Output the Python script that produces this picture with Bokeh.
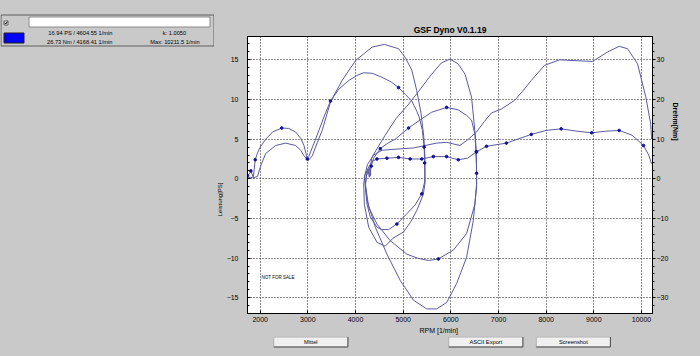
from bokeh.plotting import figure
from bokeh.models import Range1d, LinearAxis, Label, Title, SingleIntervalTicker, FixedTicker
from bokeh.layouts import row, column
from bokeh.core.properties import value
from bokeh.embed import file_html
from bokeh.resources import INLINE

# ---------------- data ----------------
rpm_ticks = [2000, 3000, 4000, 5000, 6000, 7000, 8000, 9000, 10000]

# Power [PS] (left axis) - one continuous trace split into its runs
pw1_rpm = [1735, 1800, 1850, 1944, 2014, 2117, 2326, 2535, 2744, 2850, 2919, 3009, 3093, 3200, 3301,
           3475, 3719, 4000, 4345, 4605, 4903, 5042, 5181, 5285, 5376, 5432, 5455, 5460, 5460]
pw1_ps = [0.1, 0.2, 0.1, 0.3, 1.7, 3.2, 4.2, 4.5, 4.2, 3.6, 2.9, 2.3, 2.9, 4.6, 6.1,
          9.7, 12.4, 14.9, 16.6, 16.94, 16.4, 15.3, 13.7, 11.1, 8.2, 5.3, 3.0, 0.0, -0.5]
pw2_rpm = [5420, 5285, 5150, 5007, 4784, 4623, 4450, 4276, 4185, 4172, 4200, 4260, 4290, 4310]
pw2_ps = [-2.0, -4.0, -5.5, -6.7, -7.5, -8.5, -8.0, -6.1, -3.2, -0.6, 0.5, 1.2, 0.2, 1.5]
pw3_rpm = [4345, 4450, 4623, 4850, 5100, 5320, 5598, 5800, 5980, 6150, 6297, 6434, 6503, 6535, 6540, 6540]
pw3_ps = [2.7, 3.8, 5.5, 7.6, 9.3, 11.0, 13.2, 14.6, 15.1, 14.5, 13.2, 10.3, 6.1, 1.9, 0.0, -1.0]
pw4_rpm = [6470, 6330, 6121, 5912, 5703, 5494, 5216, 4937, 4659, 4415, 4241, 4185, 4250]
pw4_ps = [-5.3, -9.9, -13.2, -15.6, -16.4, -16.4, -15.3, -12.8, -9.5, -6.1, -2.7, 0.2, 1.8]
pw5_rpm = [4380, 4554, 4763, 5000, 5230, 5460, 5700, 5912, 6050, 6190, 6350, 6538, 6700, 6852, 7060,
           7339, 7500, 7687, 7966, 8280, 8600, 8975, 9290, 9531, 9707, 9916, 10090, 10193, 10211]
pw5_ps = [3.0, 3.6, 3.7, 3.8, 3.9, 4.2, 4.5, 4.6, 4.4, 4.2, 4.9, 5.9, 7.2, 8.3, 8.8,
          9.9, 11.0, 12.4, 14.3, 15.0, 14.9, 14.8, 16.0, 16.7, 16.4, 14.5, 10.3, 6.9, 5.0]

# Torque [Nm] (right axis)
tq1_rpm = [1735, 1770, 1804, 1830, 1854, 1875, 1896, 1940, 1990, 2117, 2260, 2452, 2600, 2744, 2850,
           2919, 2960, 2988, 3020, 3057, 3150, 3232, 3350, 3475, 3650, 3860, 4050, 4170, 4350, 4554,
           4750, 4903, 5050, 5181, 5280, 5334, 5400, 5440, 5450, 5452, 5450]
tq1_nm = [0.8, 1.2, 2.0, 1.2, 0.4, 2.4, 4.8, 6.4, 7.8, 10.0, 11.8, 12.8, 12.7, 11.8, 10.2,
          8.4, 6.4, 5.0, 5.6, 6.8, 9.6, 12.2, 16.0, 19.6, 22.6, 24.8, 26.2, 26.73, 26.6, 25.6,
          24.4, 23.0, 21.2, 19.6, 17.2, 15.6, 12.4, 8.0, 4.0, 0.0, -0.8]
tq1_dots = [0, 2, 6, 11, 17, 23, 31, 37, 38]
tq2_rpm = [5390, 5250, 5077, 4868, 4694, 4550, 4450, 4310, 4241, 4206, 4230, 4290, 4320, 4300, 4330]
tq2_nm = [-3.8, -6.6, -8.8, -11.4, -12.8, -12.8, -12.2, -9.6, -6.4, -2.0, 0.8, 2.8, 1.2, 0.6, 3.2]
tq2_dots = [0, 3, 14]
tq3_rpm = [4380, 4519, 4680, 4833, 5112, 5350, 5600, 5912, 6150, 6330, 6434, 6510, 6535, 6540, 6540]
tq3_nm = [5.2, 7.6, 9.0, 10.0, 12.8, 14.8, 16.8, 18.0, 17.4, 16.0, 14.8, 11.0, 6.8, 1.4, -1.2]
tq3_dots = [1, 4, 7, 12, 13]
tq4_rpm = [6504, 6330, 6051, 5738, 5530, 5300, 5077, 4728, 4450, 4276, 4206, 4250]
tq4_nm = [-6.4, -13.8, -18.0, -20.2, -20.6, -20.0, -19.0, -15.6, -11.4, -7.2, -1.2, 2.4]
tq4_dots = [3]
tq5_rpm = [4350, 4450, 4659, 4903, 5146, 5390, 5633, 5912, 6156, 6350, 6538, 6748, 7165, 7687, 8000,
           8314, 8650, 8955, 9250, 9531, 9800, 10041, 10150, 10211]
tq5_nm = [4.4, 5.0, 5.2, 5.4, 5.0, 5.0, 5.6, 5.6, 4.8, 5.2, 6.8, 8.2, 9.0, 11.2, 12.2,
          12.6, 12.0, 11.6, 12.0, 12.2, 11.0, 8.4, 6.0, 3.8]
tq5_dots = [1, 2, 3, 4, 5, 6, 7, 8, 10, 11, 12, 13, 15, 17, 19, 21]

header_left = ["16.94 PS / 4604.55 1/min", "26.73 Nm / 4168.41 1/min"]
header_right = ["k: 1.0050", "Max: 10211.5 1/min"]
buttons = ["Mittel", "ASCII Export", "Screenshot"]

# ---------------- styling / layout ----------------
BG = "#c9c9c9"
LINE = "#5a5a9e"
DOT = "#10109a"
FONT = "Liberation Sans"
W, H = 700, 356
W_LEFT = 214          # width of the left strip (header panel)
H_MAIN = 336          # height of the chart figure (buttons below it)
FRAME_L, FRAME_R, FRAME_T, FRAME_B = 245, 652, 36, 313

pw_rpm = pw1_rpm + pw2_rpm + pw3_rpm + pw4_rpm + pw5_rpm
pw_ps = pw1_ps + pw2_ps + pw3_ps + pw4_ps + pw5_ps
tq_rpm = tq1_rpm + tq2_rpm + tq3_rpm + tq4_rpm + tq5_rpm
tq_nm = tq1_nm + tq2_nm + tq3_nm + tq4_nm + tq5_nm
dot_rpm, dot_nm = [], []
for r, v, idx in [(tq1_rpm, tq1_nm, tq1_dots), (tq2_rpm, tq2_nm, tq2_dots), (tq3_rpm, tq3_nm, tq3_dots),
                  (tq4_rpm, tq4_nm, tq4_dots), (tq5_rpm, tq5_nm, tq5_dots)]:
    dot_rpm += [r[i] for i in idx]
    dot_nm += [v[i] for i in idx]

# ---------------- main chart ----------------
p = figure(width=W - W_LEFT, height=H_MAIN, output_backend="svg", toolbar_location=None,
           x_range=Range1d(1734, 10230), y_range=Range1d(-16.98, 17.94),
           min_border_left=FRAME_L - W_LEFT, min_border_right=W - FRAME_R,
           min_border_top=FRAME_T, min_border_bottom=H_MAIN - FRAME_B,
           background_fill_color="white", border_fill_color=BG,
           outline_line_color="black", outline_line_width=1)
p.extra_y_ranges = {"nm": Range1d(-33.96, 35.88)}

p.title.text = "GSF Dyno V0.1.19"
p.title.align = "center"
p.title.text_font = FONT
p.title.text_font_size = "8.5px"
p.title.text_font_style = "bold"
p.title.text_color = "black"
p.title.standoff = 4

p.xaxis.ticker = FixedTicker(ticks=rpm_ticks)
p.yaxis.ticker = SingleIntervalTicker(interval=5, num_minor_ticks=5)
for ax in [p.xaxis[0], p.yaxis[0]]:
    ax.axis_line_color = "black"
    ax.major_tick_line_color = "black"
    ax.minor_tick_line_color = "black"
    ax.major_tick_out = 0
    ax.major_tick_in = 3
    ax.minor_tick_out = 0
    ax.minor_tick_in = 2
    ax.major_label_text_font = FONT
    ax.major_label_text_font_size = "7px"
    ax.major_label_text_color = "black"
p.xaxis.major_label_standoff = 3
p.yaxis.major_label_standoff = 9

rax = LinearAxis(y_range_name="nm", ticker=SingleIntervalTicker(interval=10, num_minor_ticks=5))
rax.axis_line_color = "black"
rax.major_tick_line_color = "black"
rax.minor_tick_line_color = "black"
rax.major_tick_out = 3
rax.major_tick_in = 0
rax.minor_tick_out = 2
rax.minor_tick_in = 0
rax.major_label_standoff = 1
rax.major_label_text_font = FONT
rax.major_label_text_font_size = "7px"
rax.major_label_text_color = "black"
p.add_layout(rax, "right")

p.add_layout(Title(text="Leistung[PS]", align="left", offset=97, standoff=1, text_color="black",
                   text_font=FONT, text_font_size="6px", text_font_style="normal"), "left")
p.add_layout(Title(text="Drehm[Nm]", align="left", offset=66, standoff=1, text_color="black",
                   text_font=FONT, text_font_size="7px", text_font_style="bold"), "right")
p.add_layout(Title(text="RPM [1/min]", align="left", offset=172, standoff=1, text_color="black",
                   text_font=FONT, text_font_size="7px", text_font_style="normal"), "below")

p.xgrid.ticker = FixedTicker(ticks=rpm_ticks)
p.ygrid.ticker = SingleIntervalTicker(interval=5)
for g in [p.xgrid[0], p.ygrid[0]]:
    g.grid_line_color = "black"
    g.grid_line_dash = "1 2"
    g.grid_line_alpha = 0.9

p.line(pw_rpm, pw_ps, line_color=LINE, line_width=1)
p.line(tq_rpm, tq_nm, y_range_name="nm", line_color=LINE, line_width=1)
p.scatter(dot_rpm, dot_nm, y_range_name="nm", size=2.6, color=DOT)
p.add_layout(Label(x=2027, y=-12.5, text="NOT FOR SALE", text_font=FONT, text_font_size="4.5px",
                   text_baseline="middle", text_color="black"))


def panel(w, h, x0, y0):
    f = figure(width=w, height=h, output_backend="svg", toolbar_location=None,
               x_range=Range1d(x0, x0 + w), y_range=Range1d(y0 + h, y0),
               x_axis_type=None, y_axis_type=None, min_border=0,
               background_fill_color=BG, border_fill_color=BG, outline_line_color=None)
    f.xgrid.visible = False
    f.ygrid.visible = False
    return f


def txt(f, x, y, s, size, align):
    f.text(x=[x], y=[y], text=[s], text_font=value(FONT), text_font_size=value(f"{size}px"),
           text_align=align, text_baseline="middle", text_color="black")


# ---------------- header panel (left strip) ----------------
hp = panel(W_LEFT, H, 0, 0)
hp.quad(left=[0.5], right=[W_LEFT - 0.5], top=[14.5], bottom=[45.5], fill_color=BG, line_color="#5e5e5e")
hp.quad(left=[28.5], right=[209.5], top=[16.5], bottom=[26.5], fill_color="white", line_color="#8a8a8a")
hp.quad(left=[3.5], right=[7.5], top=[20.5], bottom=[24.5], fill_color="white", line_color="#606060")
hp.line(x=[4.3, 5.3, 6.8], y=[22.2, 23.6, 21.2], line_color="black", line_width=1)
hp.quad(left=[3.5], right=[23.5], top=[32.5], bottom=[42.5], fill_color="#0000ff", line_color="#202020")
txt(hp, 112, 32.3, header_left[0], 5.7, "right")
txt(hp, 112, 41.3, header_left[1], 5.7, "right")
txt(hp, 174, 32.3, header_right[0], 5.7, "center")
txt(hp, 174.5, 41.3, header_right[1], 5.7, "center")

# ---------------- buttons (below the chart) ----------------
bp = panel(W - W_LEFT, H - H_MAIN, W_LEFT, H_MAIN)
bx = [245, 455, 560]
bp.quad(left=[x + 0.5 for x in bx], right=[x + 89.5 for x in bx], top=[336.5] * 3, bottom=[346.5] * 3,
        fill_color="#f0f0f0", line_color="#b0b0b0")
bp.multi_line(xs=[[x + 0.5, x + 89.5, x + 89.5] for x in bx], ys=[[346.5, 346.5, 336.5]] * 3,
              line_color="#505050", line_width=1)
for name, x in zip(buttons, bx):
    txt(bp, x + 45, 341.5, name, 5.7, "center")

right_col = column(p, bp, spacing=0, styles={"background-color": BG})
layout = row(hp, right_col, spacing=0, styles={"background-color": BG})
open("out.html", "w").write(file_html(layout, INLINE))
